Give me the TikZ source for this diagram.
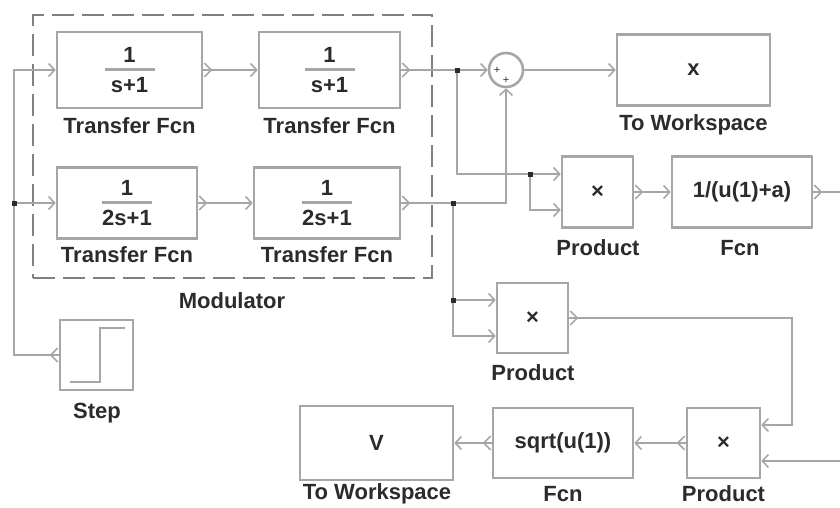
\documentclass[tikz,border=0pt]{standalone}
\usepackage{fontspec}
\setmainfont{Liberation Sans}
\usetikzlibrary{arrows.meta}
\definecolor{ln}{HTML}{A6A6A6}
\definecolor{dk}{HTML}{2E2A2A}
\newcommand\tfn[1]{\vbox{\offinterlineskip\hbox to 60pt{\hss 1\hss}\kern6pt
  \hbox to 60pt{\hss\textcolor{ln}{\rule{50pt}{3pt}}\hss}\kern6pt
  \hbox to 60pt{\hss #1\hss}}}
\begin{document}
\begin{tikzpicture}[x=1pt,y=-1pt, every node/.style={font=\fontsize{22}{24}\selectfont\bfseries,text=dk},
  blk/.style={draw=ln,line width=2.6pt,minimum width=#1,minimum height=71pt,inner sep=0pt},
  blk/.default=71pt,
  wire/.style={draw=ln,line width=2.6pt,-{Straight Barb[length=6pt,width=13pt,line width=1.6pt]}},
  jdot/.style={fill=dk,inner sep=0pt,minimum size=5pt},
  oport/.pic={\draw[ln,line width=1.6pt] (1,-7) -- (8,0) -- (1,7);}]
\useasboundingbox (0,0) rectangle (840,507);
% modulator subsystem
\node[draw=gray,line width=2.6pt,dash pattern=on 22pt off 8pt,minimum width=399pt,minimum height=263pt] (modbox) at (232.5,146.5) {};
\node (modl) at (232,301) {Modulator};
\node[blk=145pt,minimum height=76pt] (tf1) at (129.5,70) {\tfn{s+1}};
\node[blk=141pt,minimum height=76pt] (tf2) at (329.5,70) {\tfn{s+1}};
\node[blk=140pt] (tf3) at (127,203) {\tfn{2s+1}};
\node[blk=146pt] (tf4) at (327,203) {\tfn{2s+1}};
\node (tf1l) at (129.5,126) {Transfer Fcn};
\node (tf2l) at (329.5,126) {Transfer Fcn};
\node (tf3l) at (127,255) {Transfer Fcn};
\node (tf4l) at (327,255) {Transfer Fcn};
% step source
\node[blk=73pt,minimum height=70pt] (step) at (96.5,355) {};
\draw[ln,line width=2.6pt] (70,382) -- (100,382) -- (100,328) -- (125,328);
\node (stepl) at (97,413) {Step};
% sum and sinks
\node[draw=ln,line width=2.6pt,circle,minimum size=34pt,inner sep=0pt] (sum) at (506,70) {};
\node[font=\fontsize{11}{11}\selectfont] (sg1) at (497,70) {+};
\node[font=\fontsize{11}{11}\selectfont] (sg2) at (506,80) {+};
\node[blk=153pt] (xws) at (693.5,70) {x};
\node (xwsl) at (693.5,125) {To Workspace};
\node[blk] (prod1) at (597.5,192) {×};
\node[blk=140pt] (fcn1) at (742,192) {1/(u(1)+a)};
\node (prod1l) at (598,248) {Product};
\node (fcn1l) at (740,248) {Fcn};
\node[blk,minimum height=70pt] (prod2) at (532.5,318) {×};
\node (prod2l) at (533,373) {Product};
\node[blk=73pt,minimum height=70pt] (prod3) at (723.5,443) {×};
\node[blk=140pt,minimum height=70pt] (fcn2) at (563,443) {sqrt(u(1))};
\node[blk=153pt,minimum height=74pt] (vws) at (376.5,443) {V};
\node (vwsl) at (377,494) {To Workspace};
\node (fcn2l) at (563,494) {Fcn};
\node (prod3l) at (723.5,494) {Product};
% branch points
\coordinate (j1) at (14,203);
\coordinate (j2) at (457,70);
\coordinate (j3) at (530,174);
\coordinate (j4) at (453,203);
\coordinate (j5) at (453,300);
\coordinate (c1) at (792,318);
\coordinate (rA) at (840,192);
\coordinate (rB) at (840,461);
% wires
\draw[wire,-] (step.west) -| (j1);
\draw[wire] (j1) |- (tf1.west);
\draw[wire] (j1) -- (tf3.west);
\draw[wire] (tf1.east) -- (tf2.west);
\draw[wire] (tf3.east) -- (tf4.west);
\draw[wire] (tf2.east) -- (sum.west);
\draw[wire] (tf4.east) -| (sum.south);
\draw[wire] (sum.east) -- (xws.west);
\draw[wire] (j2) |- ([yshift=18pt]prod1.west);
\draw[wire] (j3) |- ([yshift=-18pt]prod1.west);
\draw[wire] (j4) |- ([yshift=-18pt]prod2.west);
\draw[wire] (j5) -- ([yshift=18pt]prod2.west);
\draw[wire] (prod1.east) -- (fcn1.west);
\draw[wire,-] (fcn1.east) -- (rA);
\draw[wire] (prod2.east) -- (c1) |- ([yshift=18pt]prod3.east);
\draw[wire] (rB) -- ([yshift=-18pt]prod3.east);
\draw[wire] (prod3.west) -- (fcn2.east);
\draw[wire] (fcn2.west) -- (vws.east);
\node[jdot] (d1) at (j1) {};
\node[jdot] (d2) at (j2) {};
\node[jdot] (d3) at (j3) {};
\node[jdot] (d4) at (j4) {};
\node[jdot] (d5) at (j5) {};
% output ports
\pic at (tf1.east) {oport};
\pic at (tf2.east) {oport};
\pic at (tf3.east) {oport};
\pic at (tf4.east) {oport};
\pic at (prod1.east) {oport};
\pic at (fcn1.east) {oport};
\pic at (prod2.east) {oport};
\pic[rotate=180] at (prod3.west) {oport};
\pic[rotate=180] at (fcn2.west) {oport};
\pic[rotate=180] at (step.west) {oport};
\end{tikzpicture}
\end{document}
